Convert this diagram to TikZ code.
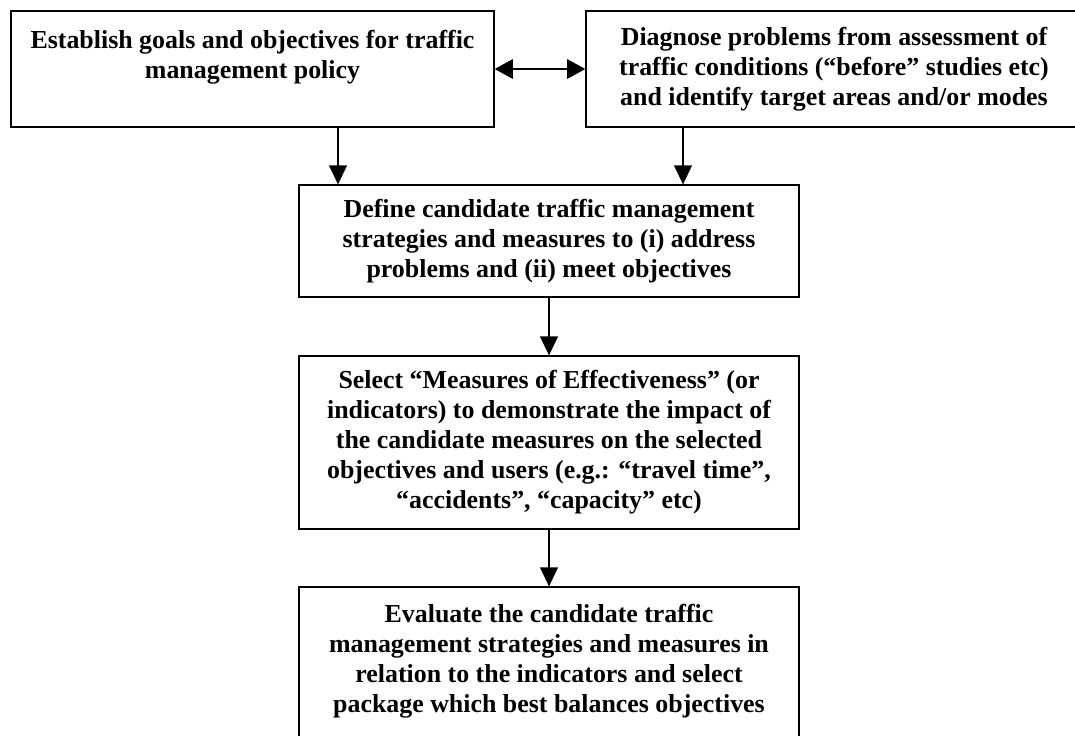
\documentclass[tikz,border=0pt]{standalone}
\usepackage{fontspec}
\setmainfont{Liberation Serif}
\usetikzlibrary{arrows.meta}
\newlength\pxu
\setlength\pxu{0.4633pt}
\tikzset{
  taskbox/.style={draw, line width=0.6pt, align=center, inner sep=0pt,
    font=\bfseries\fontsize{12}{13.9}\selectfont},
  flowarrow/.style={line width=0.6pt, -{Triangle[length=8.8pt,width=8.3pt]}},
  twoway/.style={line width=0.6pt, {Triangle[length=8.4pt,width=9pt]}-{Triangle[length=8.4pt,width=9pt]}},
}
\begin{document}
\begin{tikzpicture}[x=\pxu, y=-\pxu]
\useasboundingbox (0,0) rectangle (1075,735);
\clip (0,0) rectangle (1075,735);

% Top row
\node[taskbox, minimum width=483\pxu, minimum height=116\pxu] (goals) at (252.5,69)
  {Establish goals and objectives for traffic\\management policy\\ ~};
\node[taskbox, minimum width=496\pxu, minimum height=116\pxu] (diagnose) at (834,69)
  {Diagnose problems from assessment of\\traffic conditions (``before'' studies etc)\\and identify target areas and/or modes};

% Middle column
\node[taskbox, minimum width=500\pxu, minimum height=112\pxu] (define) at (549,241)
  {Define candidate traffic management\\strategies and measures to (i) address\\problems and (ii) meet objectives};
\node[taskbox, minimum width=500\pxu, minimum height=173\pxu] (select) at (549,442.5)
  {Select ``Measures of Effectiveness'' (or\\indicators) to demonstrate the impact of\\the candidate measures on the selected\\objectives and users (e.g.: ``travel time'',\\``accidents'', ``capacity'' etc)};
\node[taskbox, minimum width=500\pxu, minimum height=173\pxu] (evaluate) at (549,673.5)
  {Evaluate the candidate traffic\\management strategies and measures in\\relation to the indicators and select\\package which best balances objectives\\ ~};

% Connectors
\coordinate (leftdrop) at (338,0);
\coordinate (rightdrop) at (683,0);
\draw[twoway] (goals.east) -- (diagnose.west);
\draw[flowarrow] (goals.south -| leftdrop) -- (define.north -| leftdrop);
\draw[flowarrow] (diagnose.south -| rightdrop) -- (define.north -| rightdrop);
\draw[flowarrow] (define.south) -- (select.north);
\draw[flowarrow] (select.south) -- (evaluate.north);

\end{tikzpicture}
\end{document}
